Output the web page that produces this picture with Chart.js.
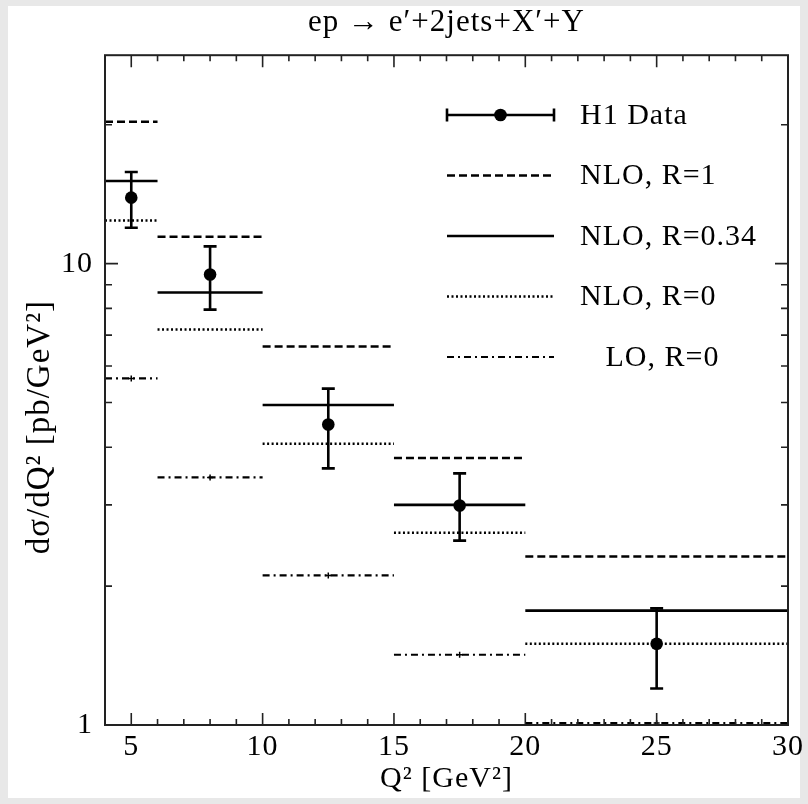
<!DOCTYPE html>
<html>
<head>
<meta charset="utf-8">
<script src="https://cdn.jsdelivr.net/npm/chart.js@4.4.1/dist/chart.umd.min.js"></script>
<style>
  html, body { margin: 0; padding: 0; background: #e8e8e8; }
  #h1-chart { display: block; }
</style>
</head>
<body>
<canvas id="h1-chart" width="808" height="804"></canvas>
<script>
/**
 * H1 dijet cross section dσ/dQ² vs Q², data vs NLO/LO predictions
 */

// Q² bins [GeV²]
const binLo = [4, 6, 10, 15, 20];
const binHi = [6, 10, 15, 20, 30];

// H1 data points with errors
const h1X = [5, 8, 12.5, 17.5, 25];
const h1Y = [13.9, 9.47, 4.48, 2.99, 1.50];
const h1Up = [15.8, 10.9, 5.36, 3.51, 1.79];
const h1Down = [11.96, 7.95, 3.60, 2.51, 1.20];

// theory predictions per bin
const nloR1 = [20.3, 11.44, 6.61, 3.79, 2.32];
const nloR034 = [15.1, 8.66, 4.94, 3.00, 1.77];
const nloR0 = [12.4, 7.20, 4.07, 2.61, 1.50];
const loR0 = [5.64, 3.44, 2.11, 1.42, 1.01];

// axes
const xTicks = [5, 10, 15, 20, 25, 30];
const yTicks = [1, 10];

const titleText = 'ep \u2192 e\u2032+2jets+X\u2032+Y';
const xTitle = 'Q\u00b2 [GeV\u00b2]';
const yTitle = 'd\u03c3/dQ\u00b2 [pb/GeV\u00b2]';
const legendLabels = ['H1 Data', 'NLO, R=1', 'NLO, R=0.34', 'NLO, R=0', '   LO, R=0'];

const FONT = '"Liberation Serif", "Times New Roman", serif';
const FONT_SIZE = 30;
const LETTER_SPACING = '1px';

// turn per-bin values into flat horizontal segments
function binSteps(vals) {
    const out = [];
    vals.forEach((v, i) => {
        out.push({ x: binLo[i], y: v }, { x: binHi[i], y: v }, { x: binHi[i], y: null });
    });
    return out;
}

// the original text is set a bit wide, so space the letters out
const spacingPlugin = {
    id: 'spacing',
    beforeLayout(chart) { chart.ctx.letterSpacing = LETTER_SPACING; },
    beforeDraw(chart) { chart.ctx.letterSpacing = LETTER_SPACING; }
};

const paperPlugin = {
    id: 'paper',
    beforeDraw(chart) {
        const ctx = chart.ctx;
        ctx.save();
        ctx.fillStyle = '#e8e8e8';
        ctx.fillRect(0, 0, chart.width, chart.height);
        ctx.fillStyle = '#ffffff';
        ctx.fillRect(8, 6, chart.width - 16, chart.height - 12);
        ctx.restore();
    }
};

// vertical error bars on the H1 points
const errorBarPlugin = {
    id: 'errorBars',
    afterDatasetsDraw(chart) {
        const ctx = chart.ctx;
        const xs = chart.scales.x, ys = chart.scales.y;
        ctx.save();
        ctx.strokeStyle = '#000';
        ctx.lineWidth = 2.6;
        h1X.forEach((xv, i) => {
            const px = xs.getPixelForValue(xv);
            const top = ys.getPixelForValue(h1Up[i]);
            const bot = ys.getPixelForValue(h1Down[i]);
            ctx.beginPath();
            ctx.moveTo(px, top); ctx.lineTo(px, bot);
            ctx.moveTo(px - 6.5, top); ctx.lineTo(px + 6.5, top);
            ctx.moveTo(px - 6.5, bot); ctx.lineTo(px + 6.5, bot);
            ctx.stroke();
        });
        ctx.restore();
    }
};

// frame with inward ticks on all four sides
const framePlugin = {
    id: 'frame',
    afterDraw(chart) {
        const ctx = chart.ctx;
        const a = chart.chartArea;
        const xs = chart.scales.x, ys = chart.scales.y;
        ctx.save();
        ctx.strokeStyle = '#222';
        ctx.lineWidth = 2;
        ctx.strokeRect(a.left, a.top, a.right - a.left, a.bottom - a.top);
        ctx.lineWidth = 1.6;
        ctx.beginPath();
        for (let v = Math.ceil(xs.min); v < xs.max; v++) {
            const px = xs.getPixelForValue(v);
            const len = v % 5 === 0 ? 12 : 6;
            ctx.moveTo(px, a.bottom); ctx.lineTo(px, a.bottom - len);
            ctx.moveTo(px, a.top); ctx.lineTo(px, a.top + len);
        }
        for (let dec = 1; dec <= 10; dec *= 10) {
            for (let m = 1; m <= 9; m++) {
                const v = m * dec;
                if (v <= ys.min || v >= ys.max) continue;
                const py = ys.getPixelForValue(v);
                const len = m === 1 ? 13 : 7;
                ctx.moveTo(a.left, py); ctx.lineTo(a.left + len, py);
                ctx.moveTo(a.right, py); ctx.lineTo(a.right - len, py);
            }
        }
        ctx.stroke();
        ctx.restore();
    }
};

// legend box in the upper right of the plot
const legendPlugin = {
    id: 'sideLegend',
    afterDraw(chart) {
        const ctx = chart.ctx;
        const x0 = 447, x1 = 554, textX = 580;
        ctx.save();
        ctx.font = FONT_SIZE + 'px ' + FONT;
        ctx.fillStyle = '#000';
        ctx.textBaseline = 'middle';
        legendLabels.forEach((label, i) => {
            const y = 115 + i * 60.5;
            const ds = chart.data.datasets[i];
            ctx.strokeStyle = '#000';
            ctx.lineWidth = i === 0 ? 2.6 : ds.borderWidth;
            ctx.setLineDash(i === 0 ? [] : (ds.borderDash || []));
            ctx.beginPath();
            ctx.moveTo(x0, y); ctx.lineTo(x1, y);
            if (i === 0) {
                ctx.moveTo(x0, y - 6.5); ctx.lineTo(x0, y + 6.5);
                ctx.moveTo(x1, y - 6.5); ctx.lineTo(x1, y + 6.5);
            }
            ctx.stroke();
            ctx.setLineDash([]);
            if (i === 0) {
                ctx.beginPath();
                ctx.arc((x0 + x1) / 2, y, 6.3, 0, Math.PI * 2);
                ctx.fill();
            }
            ctx.fillText(label, textX, y + 1);
        });
        ctx.restore();
    }
};

const ctx = document.getElementById('h1-chart');

const chart = new Chart(ctx, {
    type: 'scatter',
    data: {
        datasets: [{
            label: legendLabels[0],
            data: h1X.map((x, i) => ({ x: x, y: h1Y[i] })),
            showLine: false,
            pointRadius: 6.3,
            pointBackgroundColor: '#000',
            pointBorderColor: '#000',
            borderWidth: 0,
            order: 0
        }, {
            label: legendLabels[1],
            data: binSteps(nloR1),
            showLine: true,
            borderColor: '#000',
            borderWidth: 2.5,
            borderDash: [8, 4],
            pointRadius: 0,
            order: 1
        }, {
            label: legendLabels[2],
            data: binSteps(nloR034),
            showLine: true,
            borderColor: '#000',
            borderWidth: 2.6,
            pointRadius: 0,
            order: 1
        }, {
            label: legendLabels[3],
            data: binSteps(nloR0),
            showLine: true,
            borderColor: '#000',
            borderWidth: 2.4,
            borderDash: [2, 2.5],
            pointRadius: 0,
            order: 1
        }, {
            label: legendLabels[4],
            data: binSteps(loR0),
            showLine: true,
            borderColor: '#000',
            borderWidth: 2.2,
            borderDash: [7, 4, 2, 4],
            pointRadius: 0,
            order: 1
        }, {
            label: 'LO centre',
            data: h1X.map((x, i) => ({ x: x, y: loR0[i] })),
            showLine: false,
            pointStyle: 'cross',
            pointRadius: 3,
            pointBorderColor: '#000',
            pointBorderWidth: 1.5,
            order: 1
        }]
    },
    options: {
        responsive: false,
        animation: false,
        devicePixelRatio: 1,
        layout: {
            padding: { left: 0, right: 17, top: 0, bottom: 0 }
        },
        plugins: {
            legend: { display: false },
            tooltip: { enabled: false },
            title: {
                display: true,
                text: titleText,
                fullSize: false,
                color: '#000',
                font: { family: FONT, size: FONT_SIZE + 1, weight: 'normal' },
                padding: { top: 4, bottom: 14 }
            }
        },
        scales: {
            x: {
                type: 'linear',
                min: 4,
                max: 30,
                afterBuildTicks: (scale) => {
                    scale.ticks = xTicks.map(v => ({ value: v }));
                },
                afterFit: (scale) => {
                    scale.height = 79;
                },
                grid: { display: false, drawTicks: false },
                border: { display: false },
                ticks: {
                    color: '#000',
                    padding: 4,
                    maxRotation: 0,
                    font: { family: FONT, size: FONT_SIZE },
                    callback: (value) => String(value)
                },
                title: {
                    display: true,
                    text: xTitle,
                    color: '#000',
                    font: { family: FONT, size: FONT_SIZE },
                    padding: { top: 0, bottom: 7 }
                }
            },
            y: {
                type: 'logarithmic',
                min: 1,
                max: 28.3,
                afterBuildTicks: (scale) => {
                    scale.ticks = yTicks.map(v => ({ value: v }));
                },
                afterFit: (scale) => {
                    scale.width = 105;
                },
                grid: { display: false, drawTicks: false },
                border: { display: false },
                ticks: {
                    color: '#000',
                    padding: 12,
                    font: { family: FONT, size: FONT_SIZE },
                    callback: (value) => String(value)
                },
                title: {
                    display: true,
                    // trailing blanks push the centred label down towards the lower half, as in the original
                    text: yTitle + '        ',
                    color: '#000',
                    font: { family: FONT, size: 33 },
                    padding: { top: 21, bottom: 0 }
                }
            }
        }
    },
    plugins: [spacingPlugin, paperPlugin, errorBarPlugin, framePlugin, legendPlugin]
});
</script>
</body>
</html>
